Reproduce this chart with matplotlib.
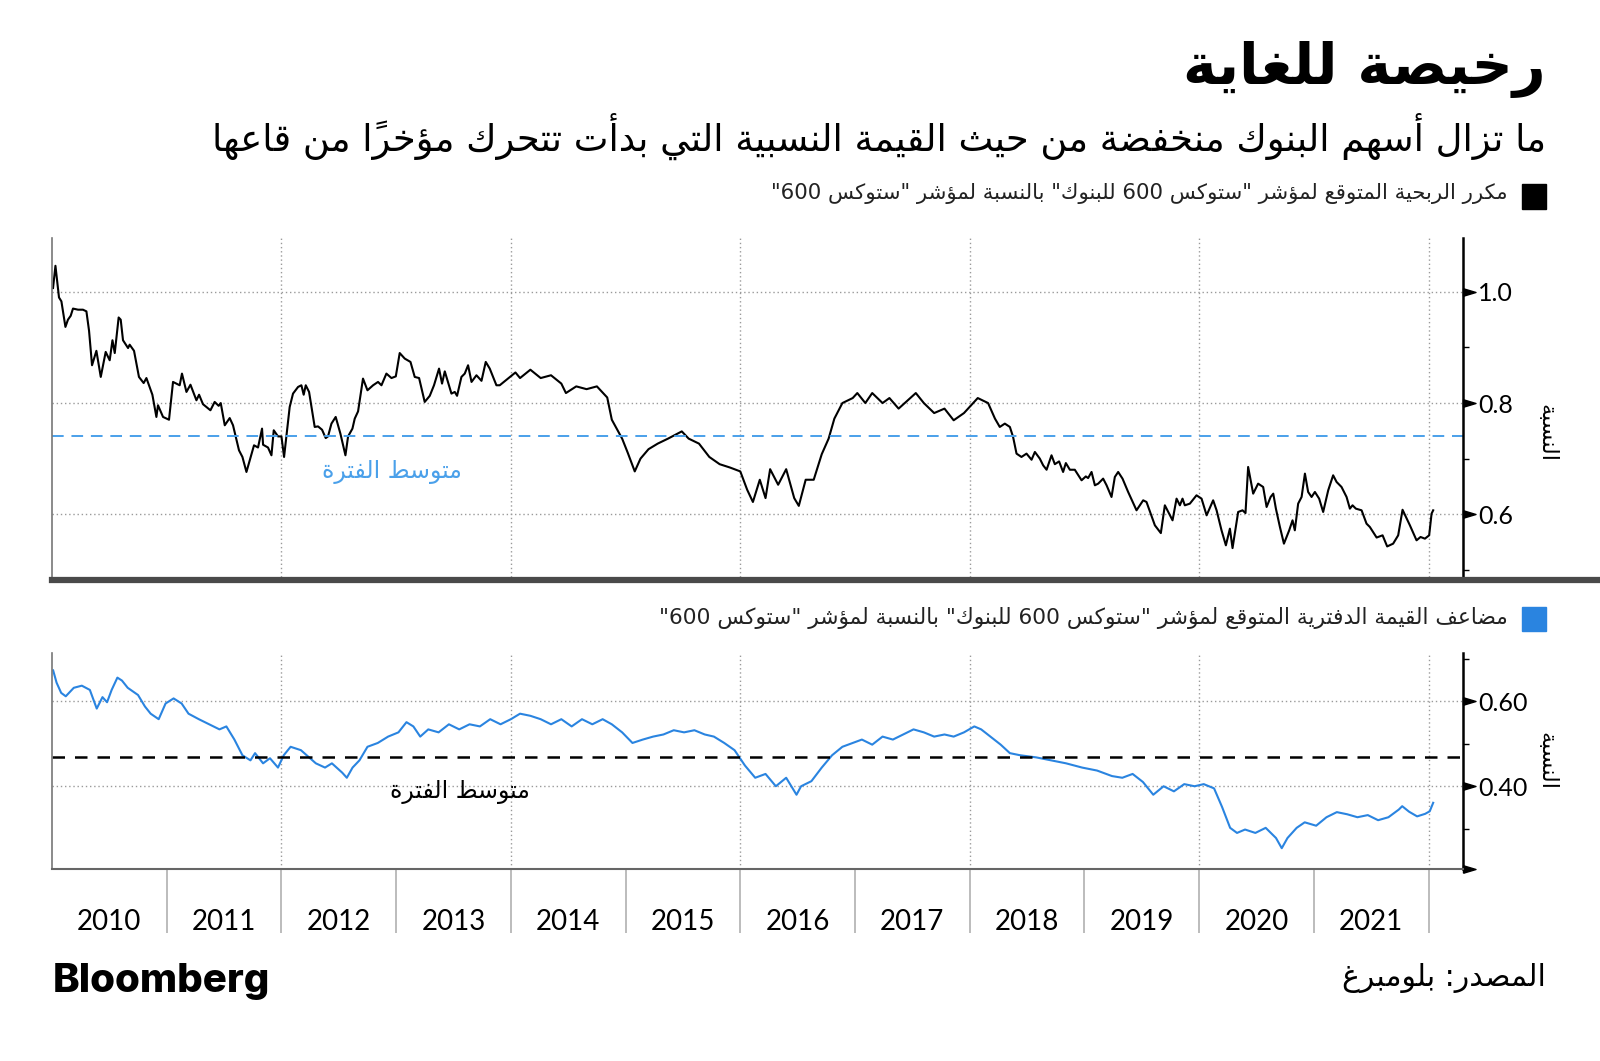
import re
import numpy as np
import matplotlib
matplotlib.use("Agg")
import matplotlib.pyplot as plt
from matplotlib.patches import Rectangle
from matplotlib.lines import Line2D

# ---- data (decimal years) ----
pe_years = [2010.009, 2010.030, 2010.061, 2010.082, 2010.117, 2010.139, 2010.163, 2010.183, 2010.227, 2010.270,
            2010.300, 2010.323, 2010.349, 2010.387, 2010.425, 2010.468, 2010.503, 2010.527, 2010.547, 2010.581,
            2010.599, 2010.619, 2010.663, 2010.677, 2010.715, 2010.758, 2010.799, 2010.823, 2010.875, 2010.910,
            2010.924, 2010.968, 2011.020, 2011.055, 2011.113, 2011.133, 2011.172, 2011.207, 2011.259, 2011.282,
            2011.316, 2011.381, 2011.418, 2011.453, 2011.471, 2011.506, 2011.549, 2011.578, 2011.630, 2011.660,
            2011.695, 2011.724, 2011.761, 2011.796, 2011.831, 2011.840, 2011.883, 2011.913, 2011.933, 2011.970,
            2012.000, 2012.023, 2012.072, 2012.101, 2012.145, 2012.174, 2012.194, 2012.212, 2012.241, 2012.290,
            2012.319, 2012.354, 2012.386, 2012.406, 2012.436, 2012.473, 2012.514, 2012.558, 2012.581, 2012.619,
            2012.639, 2012.668, 2012.711, 2012.750, 2012.799, 2012.842, 2012.872, 2012.915, 2012.959, 2012.997,
            2013.031, 2013.075, 2013.125, 2013.162, 2013.200, 2013.249, 2013.293, 2013.330, 2013.374, 2013.400,
            2013.424, 2013.482, 2013.511, 2013.531, 2013.569, 2013.598, 2013.627, 2013.657, 2013.700, 2013.744,
            2013.781, 2013.816, 2013.874, 2013.903, 2014.04, 2014.08, 2014.17, 2014.26, 2014.35, 2014.44,
            2014.48, 2014.57, 2014.66, 2014.75, 2014.84, 2014.88, 2014.97, 2015.02, 2015.08, 2015.13,
            2015.20, 2015.28, 2015.37, 2015.49, 2015.55, 2015.64, 2015.73, 2015.82, 2015.91, 2016.00,
            2016.06, 2016.11, 2016.17, 2016.22, 2016.26, 2016.33, 2016.40, 2016.47, 2016.51, 2016.57,
            2016.64, 2016.71, 2016.77, 2016.82, 2016.89, 2016.98, 2017.02, 2017.09, 2017.15, 2017.24,
            2017.30, 2017.38, 2017.46, 2017.53, 2017.60, 2017.69, 2017.78, 2017.86, 2017.95, 2018.07,
            2018.16, 2018.22, 2018.262, 2018.306, 2018.350, 2018.378, 2018.408, 2018.451, 2018.495, 2018.539,
            2018.568, 2018.611, 2018.640, 2018.670, 2018.713, 2018.742, 2018.779, 2018.814, 2018.838, 2018.873,
            2018.916, 2018.975, 2019.012, 2019.032, 2019.062, 2019.091, 2019.120, 2019.163, 2019.193, 2019.236,
            2019.265, 2019.294, 2019.332, 2019.381, 2019.454, 2019.512, 2019.541, 2019.614, 2019.666, 2019.701,
            2019.768, 2019.803, 2019.832, 2019.855, 2019.875, 2019.919, 2019.977, 2020.021, 2020.065, 2020.122,
            2020.152, 2020.195, 2020.233, 2020.268, 2020.291, 2020.340, 2020.378, 2020.404, 2020.427, 2020.471,
            2020.514, 2020.558, 2020.588, 2020.623, 2020.646, 2020.669, 2020.704, 2020.739, 2020.785, 2020.814,
            2020.834, 2020.863, 2020.893, 2020.922, 2020.950, 2020.980, 2021.009, 2021.046, 2021.081, 2021.125,
            2021.168, 2021.198, 2021.241, 2021.285, 2021.314, 2021.337, 2021.366, 2021.416, 2021.459, 2021.488,
            2021.547, 2021.599, 2021.639, 2021.691, 2021.735, 2021.773, 2021.837, 2021.895, 2021.930, 2021.968,
            2022.005, 2022.026, 2022.040]
pe_ratio = [1.007, 1.047, 0.990, 0.983, 0.937, 0.950, 0.957, 0.970, 0.968, 0.968,
            0.965, 0.930, 0.868, 0.894, 0.847, 0.892, 0.877, 0.913, 0.890, 0.954,
            0.950, 0.913, 0.899, 0.905, 0.894, 0.847, 0.836, 0.845, 0.815, 0.775,
            0.796, 0.775, 0.770, 0.838, 0.832, 0.853, 0.820, 0.833, 0.805, 0.815,
            0.798, 0.787, 0.802, 0.795, 0.800, 0.760, 0.773, 0.760, 0.715, 0.703,
            0.676, 0.697, 0.724, 0.720, 0.754, 0.725, 0.720, 0.706, 0.751, 0.740,
            0.740, 0.703, 0.793, 0.817, 0.829, 0.832, 0.815, 0.832, 0.820, 0.757,
            0.758, 0.752, 0.737, 0.740, 0.763, 0.775, 0.745, 0.706, 0.740, 0.754,
            0.772, 0.785, 0.844, 0.823, 0.832, 0.838, 0.832, 0.853, 0.845, 0.848,
            0.890, 0.880, 0.874, 0.847, 0.845, 0.802, 0.813, 0.832, 0.862, 0.835,
            0.857, 0.817, 0.820, 0.813, 0.847, 0.853, 0.868, 0.838, 0.850, 0.840,
            0.874, 0.862, 0.832, 0.832, 0.855, 0.845, 0.860, 0.845, 0.850, 0.835,
            0.818, 0.830, 0.825, 0.830, 0.810, 0.770, 0.736, 0.710, 0.677, 0.700,
            0.717, 0.727, 0.736, 0.749, 0.736, 0.727, 0.703, 0.690, 0.684, 0.677,
            0.644, 0.622, 0.662, 0.629, 0.681, 0.653, 0.681, 0.629, 0.615, 0.662,
            0.662, 0.708, 0.736, 0.772, 0.800, 0.809, 0.818, 0.800, 0.818, 0.800,
            0.809, 0.790, 0.805, 0.818, 0.800, 0.782, 0.790, 0.769, 0.782, 0.809,
            0.800, 0.772, 0.757, 0.763, 0.757, 0.739, 0.709, 0.703, 0.709, 0.698,
            0.712, 0.700, 0.688, 0.680, 0.706, 0.690, 0.695, 0.676, 0.692, 0.680,
            0.680, 0.661, 0.668, 0.665, 0.676, 0.652, 0.655, 0.664, 0.652, 0.631,
            0.667, 0.676, 0.664, 0.640, 0.607, 0.625, 0.622, 0.580, 0.566, 0.616,
            0.589, 0.628, 0.616, 0.628, 0.616, 0.619, 0.634, 0.628, 0.598, 0.625,
            0.607, 0.571, 0.544, 0.574, 0.539, 0.604, 0.607, 0.602, 0.685, 0.637,
            0.655, 0.649, 0.613, 0.631, 0.637, 0.610, 0.577, 0.547, 0.571, 0.589,
            0.571, 0.619, 0.631, 0.673, 0.640, 0.631, 0.640, 0.628, 0.604, 0.643,
            0.670, 0.658, 0.649, 0.631, 0.610, 0.616, 0.610, 0.607, 0.583, 0.577,
            0.558, 0.562, 0.542, 0.547, 0.562, 0.608, 0.580, 0.553, 0.559, 0.556,
            0.562, 0.601, 0.607]

pb_years = [2010.01, 2010.04, 2010.08, 2010.12, 2010.19, 2010.26, 2010.33, 2010.39, 2010.44, 2010.48,
            2010.52, 2010.57, 2010.61, 2010.66, 2010.75, 2010.81, 2010.86, 2010.93, 2010.99, 2011.06,
            2011.13, 2011.19, 2011.28, 2011.37, 2011.46, 2011.52, 2011.59, 2011.66, 2011.73, 2011.77,
            2011.84, 2011.90, 2011.97, 2012.02, 2012.08, 2012.17, 2012.22, 2012.30, 2012.38, 2012.44,
            2012.53, 2012.57, 2012.62, 2012.68, 2012.75, 2012.84, 2012.93, 2013.02, 2013.09, 2013.15,
            2013.21, 2013.28, 2013.37, 2013.46, 2013.55, 2013.64, 2013.73, 2013.82, 2013.91, 2014.00,
            2014.08, 2014.17, 2014.26, 2014.35, 2014.44, 2014.53, 2014.62, 2014.71, 2014.80, 2014.88,
            2014.97, 2015.06, 2015.15, 2015.24, 2015.33, 2015.42, 2015.51, 2015.60, 2015.69, 2015.77,
            2015.86, 2015.95, 2016.04, 2016.13, 2016.22, 2016.31, 2016.40, 2016.49, 2016.53, 2016.62,
            2016.71, 2016.80, 2016.89, 2016.98, 2017.06, 2017.15, 2017.24, 2017.33, 2017.42, 2017.51,
            2017.60, 2017.69, 2017.78, 2017.86, 2017.95, 2018.04, 2018.10, 2018.18, 2018.27, 2018.35,
            2018.44, 2018.58, 2018.71, 2018.84, 2018.98, 2019.11, 2019.24, 2019.33, 2019.42, 2019.51,
            2019.60, 2019.69, 2019.78, 2019.87, 2019.96, 2020.04, 2020.13, 2020.20, 2020.27, 2020.33,
            2020.40, 2020.49, 2020.58, 2020.67, 2020.72, 2020.77, 2020.85, 2020.92, 2021.02, 2021.11,
            2021.20, 2021.29, 2021.38, 2021.47, 2021.56, 2021.65, 2021.74, 2021.77, 2021.83, 2021.90,
            2021.97, 2022.01, 2022.04]
pb_ratio = [0.673, 0.644, 0.620, 0.612, 0.632, 0.637, 0.627, 0.583, 0.610, 0.598,
            0.627, 0.656, 0.649, 0.632, 0.615, 0.588, 0.571, 0.558, 0.595, 0.607,
            0.595, 0.571, 0.558, 0.546, 0.534, 0.541, 0.510, 0.473, 0.461, 0.478,
            0.454, 0.466, 0.444, 0.473, 0.493, 0.485, 0.473, 0.454, 0.444, 0.454,
            0.432, 0.420, 0.444, 0.461, 0.493, 0.502, 0.517, 0.527, 0.551, 0.541,
            0.517, 0.534, 0.527, 0.546, 0.534, 0.546, 0.541, 0.558, 0.546, 0.558,
            0.571, 0.566, 0.558, 0.546, 0.558, 0.541, 0.558, 0.546, 0.558, 0.546,
            0.527, 0.502, 0.510, 0.517, 0.522, 0.532, 0.527, 0.532, 0.522, 0.517,
            0.502, 0.485, 0.449, 0.420, 0.429, 0.400, 0.420, 0.380, 0.400, 0.412,
            0.444, 0.473, 0.493, 0.502, 0.510, 0.498, 0.517, 0.510, 0.522, 0.534,
            0.527, 0.517, 0.522, 0.517, 0.527, 0.541, 0.534, 0.517, 0.498, 0.478,
            0.473, 0.468, 0.461, 0.454, 0.444, 0.437, 0.424, 0.420, 0.429, 0.410,
            0.380, 0.400, 0.388, 0.405, 0.400, 0.405, 0.395, 0.351, 0.302, 0.290,
            0.298, 0.290, 0.302, 0.278, 0.254, 0.278, 0.302, 0.315, 0.307, 0.327,
            0.339, 0.334, 0.327, 0.332, 0.320, 0.327, 0.345, 0.353, 0.340, 0.329,
            0.335, 0.341, 0.361]

pe_mean = 0.74
pb_mean = 0.47
years = list(range(2010, 2022))
grid_years = [2012, 2014, 2016, 2018, 2020, 2022]

title = "رخيصة للغاية"
subtitle = "ما تزال أسهم البنوك منخفضة من حيث القيمة النسبية التي بدأت تتحرك مؤخراً من قاعها"
legend_pe = 'مكرر الربحية المتوقع لمؤشر "ستوكس 600 للبنوك" بالنسبة لمؤشر "ستوكس 600"'
legend_pb = 'مضاعف القيمة الدفترية المتوقع لمؤشر "ستوكس 600 للبنوك" بالنسبة لمؤشر "ستوكس 600"'
ratio_label = "النسبة"
mean_label = "متوسط الفترة"
source = "المصدر: بلومبرغ"

# ---- minimal arabic shaping (presentation forms + visual order) ----
_forms = [('ء', 0xFE80, 1), ('آ', 0xFE81, 2), ('أ', 0xFE83, 2), ('ؤ', 0xFE85, 2), ('إ', 0xFE87, 2),
          ('ئ', 0xFE89, 4), ('ا', 0xFE8D, 2), ('ب', 0xFE8F, 4), ('ة', 0xFE93, 2), ('ت', 0xFE95, 4),
          ('ث', 0xFE99, 4), ('ج', 0xFE9D, 4), ('ح', 0xFEA1, 4), ('خ', 0xFEA5, 4), ('د', 0xFEA9, 2),
          ('ذ', 0xFEAB, 2), ('ر', 0xFEAD, 2), ('ز', 0xFEAF, 2), ('س', 0xFEB1, 4), ('ش', 0xFEB5, 4),
          ('ص', 0xFEB9, 4), ('ض', 0xFEBD, 4), ('ط', 0xFEC1, 4), ('ظ', 0xFEC5, 4), ('ع', 0xFEC9, 4),
          ('غ', 0xFECD, 4), ('ف', 0xFED1, 4), ('ق', 0xFED5, 4), ('ك', 0xFED9, 4), ('ل', 0xFEDD, 4),
          ('م', 0xFEE1, 4), ('ن', 0xFEE5, 4), ('ه', 0xFEE9, 4), ('و', 0xFEED, 2), ('ى', 0xFEEF, 2),
          ('ي', 0xFEF1, 4)]
AR = {c: (code, n) for c, code, n in _forms}
LAM_ALEF = {'آ': 0xFEF5, 'أ': 0xFEF7, 'إ': 0xFEF9, 'ا': 0xFEFB}
MARKS = set(chr(c) for c in range(0x064B, 0x0653))


def ar(text):
    units = []
    i = 0
    while i < len(text):
        c = text[i]
        if c == 'ل' and i + 1 < len(text) and text[i + 1] in LAM_ALEF:
            units.append([LAM_ALEF[text[i + 1]], 2, ''])
            i += 2
            continue
        if c in MARKS and units:
            units[-1][2] += c
        elif c in AR:
            units.append([AR[c][0], AR[c][1], ''])
        else:
            units.append([c, 0, ''])
        i += 1
    out = []
    for k, (code, n, marks) in enumerate(units):
        if n == 0:
            out.append(code + marks)
            continue
        prev = units[k - 1] if k > 0 else None
        nxt = units[k + 1] if k + 1 < len(units) else None
        jp = prev is not None and prev[1] == 4 and n >= 2
        jn = n == 4 and nxt is not None and nxt[1] >= 2
        idx = 3 if (jp and jn) else 1 if jp else 2 if jn else 0
        out.append(chr(code + idx) + marks)
    s = ''.join(out[::-1])
    return re.sub(r'[0-9]+', lambda m: m.group(0)[::-1], s)


plt.rcParams['font.family'] = ['DejaVu Sans']
BLUE = '#2a84e0'
BLUE_LIGHT = '#4aa0ea'
W, H = 1600, 1061
fig = plt.figure(figsize=(16, 10.61), dpi=100, facecolor='white')

tri = [(0, -0.6), (0, 0.6), (2, 0), (0, -0.6)]


def style_axis(ax, ylim, major, labels, minor):
    ax.set_xlim(2010, 2022.3)
    ax.set_ylim(*ylim)
    ax.yaxis.tick_right()
    ax.set_yticks(major)
    ax.set_yticklabels(labels)
    ax.set_yticks(minor, minor=True)
    ax.tick_params(axis='y', which='major', length=0, pad=11, labelsize=18,
                   labelfontfamily='Lato', labelcolor='black')
    ax.tick_params(axis='y', which='minor', length=4, width=1, color='black')
    ax.grid(True, axis='y', which='major', ls=(0, (1, 2)), color='#9a9a9a', lw=1)
    for gy in grid_years:
        ax.axvline(gy, ls=(0, (1, 2)), color='#9a9a9a', lw=1, zorder=0)
    ax.spines['top'].set_visible(False)
    ax.spines['left'].set_color('#777777')
    ax.spines['left'].set_linewidth(1.2)
    ax.spines['right'].set_color('black')
    ax.spines['right'].set_linewidth(1.8)
    ax.plot(np.ones(len(major)), major, transform=ax.get_yaxis_transform(),
            marker=tri, ms=18, ls='none', color='black', clip_on=False)


# top panel
ax1 = fig.add_axes([52 / W, 1 - 577 / H, (1463 - 52) / W, (577 - 238) / H])
ax1.plot(pe_years, pe_ratio, color='black', lw=1.5)
ax1.axhline(pe_mean, color=BLUE_LIGHT, lw=1.4, dashes=(6, 4))
style_axis(ax1, (0.487, 1.097), [0.6, 0.8, 1.0], ['0.6', '0.8', '1.0'], [0.5, 0.7, 0.9])
ax1.spines['bottom'].set_visible(False)
ax1.set_xticks([])
ax1.text(2012.96, 0.676, ar(mean_label), color=BLUE_LIGHT, fontsize=17, ha='center', va='center')
ax1.text(1.059, 0.425, ar(ratio_label), transform=ax1.transAxes, rotation=-90, fontsize=16,
         ha='center', va='center')

fig.add_artist(Line2D([52 / W, 1], [1 - 580 / H] * 2, lw=4.5, color='#4a4a4a'))

# bottom panel
ax2 = fig.add_axes([52 / W, 1 - 869 / H, (1463 - 52) / W, (869 - 653) / H])
ax2.plot(pb_years, pb_ratio, color=BLUE, lw=1.5)
ax2.axhline(pb_mean, color='black', lw=1.8, dashes=(5, 4))
style_axis(ax2, (0.205, 0.714), [0.4, 0.6], ['0.40', '0.60'], [0.3, 0.5, 0.7])
ax2.spines['bottom'].set_color('#666666')
ax2.spines['bottom'].set_linewidth(1.5)
ax2.set_xticks(years[1:] + [2022])
ax2.set_xticklabels([])
ax2.set_xticks([y + 0.5 for y in years], minor=True)
ax2.set_xticklabels([str(y) for y in years], minor=True)
ax2.tick_params(axis='x', which='major', length=46, width=1.2, color='#b0b0b0', direction='out')
ax2.tick_params(axis='x', which='minor', length=0, pad=29, labelsize=20, labelfontfamily='Lato')
ax2.plot([1], [0], transform=ax2.transAxes, marker=tri, ms=18, color='black', clip_on=False)
ax2.text(2013.56, 0.386, ar(mean_label), color='black', fontsize=17, ha='center', va='center')
ax2.text(1.059, 0.5, ar(ratio_label), transform=ax2.transAxes, rotation=-90, fontsize=16,
         ha='center', va='center')

# titles and legend keys
fig.text(1546 / W, 1 - 69 / H, ar(title), ha='right', va='center', fontsize=41, fontweight='bold')
fig.text(1546 / W, 1 - 136 / H, ar(subtitle), ha='right', va='center', fontsize=26.6)
fig.add_artist(Rectangle((1522 / W, 1 - 209 / H), 24 / W, 25 / H, color='black', transform=fig.transFigure))
fig.text(1508 / W, 1 - 194 / H, ar(legend_pe), ha='right', va='center', fontsize=15.3, color='#222222')
fig.add_artist(Rectangle((1522 / W, 1 - 631 / H), 24 / W, 24 / H, color=BLUE, transform=fig.transFigure))
fig.text(1508 / W, 1 - 618 / H, ar(legend_pb), ha='right', va='center', fontsize=15.7, color='#222222')

# footer
fig.text(1546 / W, 1 - 978 / H, ar(source), ha='right', va='center', fontsize=21.5)
fig.text(53 / W, 1 - 982 / H, "Bloomberg", ha='left', va='center', fontsize=29,
         fontweight='heavy', family=['Inter', 'DejaVu Sans'])

fig.savefig("out.png", dpi=100, facecolor='white')
